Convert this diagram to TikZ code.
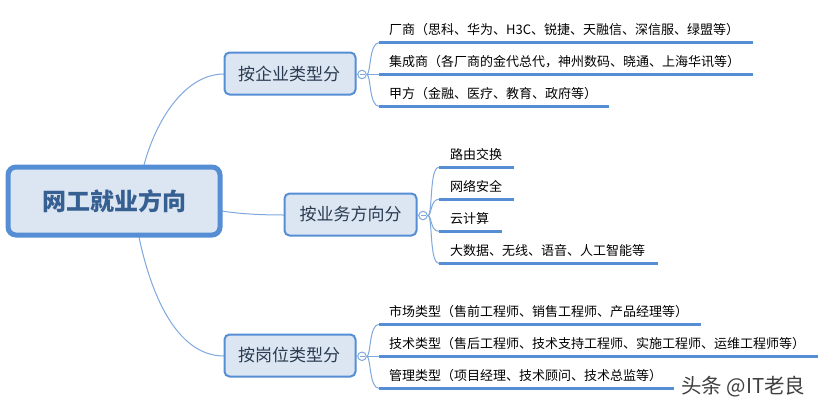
\documentclass[tikz,border=0pt]{standalone}
\usepackage{fontspec}
\setmainfont{Noto Sans CJK SC}
\definecolor{edgeblue}{HTML}{558ED5}
\definecolor{curveblue}{HTML}{7FA8DE}
\definecolor{boxfill}{HTML}{DCE6F2}
\definecolor{roottext}{HTML}{376092}
\definecolor{branchtext}{HTML}{2A3A50}
\tikzset{
  rootbox/.style={draw=edgeblue,fill=boxfill,line width=5pt,rounded corners=8pt,inner sep=0pt,
    minimum width=212pt,minimum height=68pt,text=roottext,font=\fontsize{24}{28}\selectfont\bfseries},
  branchbox/.style={draw=edgeblue,fill=boxfill,line width=2pt,rounded corners=5pt,inner sep=0pt,
    minimum height=42pt,text=branchtext,font=\fontsize{17}{20}\selectfont},
  leaftext/.style={anchor=west,inner sep=0pt,text=black,font=\fontsize{13}{16}\selectfont},
  toggle/.style={circle,draw=curveblue,fill=white,line width=1pt,minimum size=8.5pt,inner sep=0pt},
  curve/.style={draw=curveblue,line width=1pt},
  underline/.style={draw=edgeblue,line width=3pt},
  marktext/.style={anchor=west,inner sep=0pt,text=black!75,font=\fontsize{20.5}{24}\selectfont}
}
\begin{document}
\begin{tikzpicture}[x=1pt,y=-1pt]
\useasboundingbox (0,0) rectangle (822,410);
\fill[white] (0,0) rectangle (822,410);
% curves from root
\coordinate (r1) at (144,165);
\coordinate (r2) at (222,211);
\coordinate (r3) at (139,237);
\coordinate (b1w) at (224,74);
\coordinate (b2w) at (284,215);
\coordinate (b3w) at (224,356);
\draw[curve] (r1) .. controls (156,120) and (185,74) .. (b1w);
\draw[curve] (r2) .. controls (240,214) and (262,215) .. (b2w);
\draw[curve] (r3) .. controls (150,290) and (175,356) .. (b3w);
% nodes
\node[rootbox] (root) at (114,201) {网工就业方向};
\node[branchbox,minimum width=131pt] (b1) at (290,73.5) {\hspace{-2pt}按企业类型分};
\node[branchbox,minimum width=132pt] (b2) at (350.5,214.5) {按业务方向分};
\node[branchbox,minimum width=131pt] (b3) at (290,355.5) {\hspace{-2pt}按岗位类型分};
% branch 1
\node[toggle] (t1) at (362,74.5) {};
\coordinate (a1s) at (379,42.7); \coordinate (a1e) at (753,42.7);
\coordinate (a2s) at (379,74.5); \coordinate (a2e) at (753,74.5);
\coordinate (a3s) at (379,106.3); \coordinate (a3e) at (609,106.3);
\draw[curve] (b1.east) -- (t1.west);
\draw[curve] (t1.east) -- (a2s);
\draw[curve] (t1.east) .. controls (371,74.5) and (369,42.7) .. (a1s);
\draw[curve] (t1.east) .. controls (371,74.5) and (369,106.3) .. (a3s);
\draw[underline] (a1s) -- (a1e);
\draw[underline] (a2s) -- (a2e);
\draw[underline] (a3s) -- (a3e);
\node[leaftext] (a1) at (389,29.5) {厂商（思科、华为、H3C、锐捷、天融信、深信服、绿盟等）};
\node[leaftext] (a2) at (389,61.5) {集成商（各厂商的金代总代，神州数码、晓通、上海华讯等）};
\node[leaftext] (a3) at (389,93.5) {甲方（金融、医疗、教育、政府等）};
% branch 2
\node[toggle] (t2) at (423,215.5) {};
\coordinate (c1s) at (439,167.3); \coordinate (c1e) at (514,167.3);
\coordinate (c2s) at (439,199.3); \coordinate (c2e) at (514,199.3);
\coordinate (c3s) at (439,231.3); \coordinate (c3e) at (502,231.3);
\coordinate (c4s) at (439,263.3); \coordinate (c4e) at (658,263.3);
\draw[curve] (b2.east) -- (t2.west);
\draw[curve] (t2.east) .. controls (433,215.5) and (429,167.3) .. (c1s);
\draw[curve] (t2.east) .. controls (432,215.5) and (430,199.3) .. (c2s);
\draw[curve] (t2.east) .. controls (432,215.5) and (430,231.3) .. (c3s);
\draw[curve] (t2.east) .. controls (433,215.5) and (429,263.3) .. (c4s);
\draw[underline] (c1s) -- (c1e);
\draw[underline] (c2s) -- (c2e);
\draw[underline] (c3s) -- (c3e);
\draw[underline] (c4s) -- (c4e);
\node[leaftext] (c1) at (450,154.5) {路由交换};
\node[leaftext] (c2) at (450,186.5) {网络安全};
\node[leaftext] (c3) at (450,218.5) {云计算};
\node[leaftext] (c4) at (450,250.5) {大数据、无线、语音、人工智能等};
% branch 3
\node[toggle] (t3) at (362,356.3) {};
\coordinate (d1s) at (379,324.3); \coordinate (d1e) at (701,324.3);
\coordinate (d2s) at (379,356.3); \coordinate (d2e) at (818,356.3);
\coordinate (d3s) at (379,388.3); \coordinate (d3e) at (674,388.3);
\draw[curve] (b3.east) -- (t3.west);
\draw[curve] (t3.east) -- (d2s);
\draw[curve] (t3.east) .. controls (371,356.3) and (369,324.3) .. (d1s);
\draw[curve] (t3.east) .. controls (371,356.3) and (369,388.3) .. (d3s);
\draw[underline] (d1s) -- (d1e);
\draw[underline] (d2s) -- (d2e);
\draw[underline] (d3s) -- (d3e);
\node[leaftext] (d1) at (389,311.5) {市场类型（售前工程师、销售工程师、产品经理等）};
\node[leaftext] (d2) at (389,343.5) {技术类型（售后工程师、技术支持工程师、实施工程师、运维工程师等）};
\node[leaftext] (d3) at (389,375.5) {管理类型（项目经理、技术顾问、技术总监等）};
% toggle minus signs
\draw[curve] ([xshift=-2.5pt]t1.center) -- ([xshift=2.5pt]t1.center);
\draw[curve] ([xshift=-2.5pt]t2.center) -- ([xshift=2.5pt]t2.center);
\draw[curve] ([xshift=-2.5pt]t3.center) -- ([xshift=2.5pt]t3.center);
% watermark
\node[marktext] (mark) at (681,387) {头条 @IT老良};
\end{tikzpicture}
\end{document}
